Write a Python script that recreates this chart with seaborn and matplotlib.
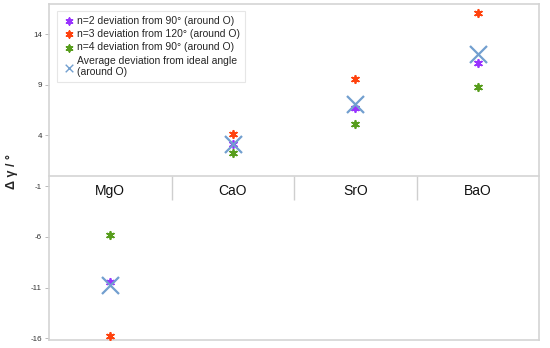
import matplotlib
matplotlib.use("Agg")
import matplotlib.pyplot as plt
import seaborn as sns
import pandas as pd

categories = ["MgO", "CaO", "SrO", "BaO"]
n2_dev = [-10.5, 3.2, 6.7, 11.1]
n3_dev = [-15.8, 4.1, 9.6, 16.1]
n4_dev = [-5.8, 2.3, 5.1, 8.8]
avg_dev = [-10.7, 3.2, 7.1, 12.0]
series_names = ["n=2 deviation from 90° (around O)",
                "n=3 deviation from 120° (around O)",
                "n=4 deviation from 90° (around O)",
                "Average deviation from ideal angle\n(around O)"]
y_ticks = [-16, -11, -6, -1, 4, 9, 14]

sns.set_theme(style="white")
plt.rcParams['font.family'] = ['Liberation Sans', 'DejaVu Sans']

colors = {series_names[0]: "#9933ff", series_names[1]: "#ff420e",
          series_names[2]: "#579d1c", series_names[3]: "#729fcf"}

rows = []
for name, vals in zip(series_names, [n2_dev, n3_dev, n4_dev, avg_dev]):
    for c, v in zip(categories, vals):
        rows.append({"cat": c, "val": v, "series": name})
df = pd.DataFrame(rows)
df["x"] = df["cat"].map({c: i for i, c in enumerate(categories)})

fig = plt.figure(figsize=(5.5, 3.48), dpi=100)
ax = fig.add_axes([49/550, 1-340/348, (539-49)/550, (340-4)/348])

star = (6, 2, 0)
for name in series_names[:3]:
    sub = df[df["series"] == name]
    sns.scatterplot(data=sub, x="x", y="val", ax=ax, marker=star, s=28,
                    color=colors[name], linewidth=1.3, label=name, zorder=3)
sub = df[df["series"] == series_names[3]]
sns.scatterplot(data=sub, x="x", y="val", ax=ax, marker="x", s=150,
                color=colors[series_names[3]], linewidth=1.6,
                label=series_names[3], zorder=4)

ax.set_xlim(-0.5, 3.5)
ax.set_ylim(-16.17, 16.96)
ax.set_xticks([])
ax.set_xlabel("")
ax.set_yticks(y_ticks)
ax.set_yticklabels([str(t) for t in y_ticks], fontsize=5.8, color="#333333")
ax.tick_params(axis="y", left=True, length=3, width=0.6, color="#b0b0b0", pad=2)
ax.set_ylabel("Δ γ / °", fontsize=9, fontweight="bold", labelpad=9)
for sp in ax.spines.values():
    sp.set_color("#d4d4d4")
    sp.set_linewidth(1.2)

sec = ax.secondary_xaxis(0, transform=ax.transData)
sec.set_xticks(range(len(categories)))
sec.set_xticklabels(categories, fontsize=10, color="#111111")
sec.set_xticks([0.5, 1.5, 2.5], minor=True)
sec.tick_params(axis="x", which="major", length=0, pad=6)
sec.tick_params(axis="x", which="minor", length=17, width=1.0, color="#cfcfcf")
sec.spines["bottom"].set_color("#d4d4d4")
sec.spines["bottom"].set_linewidth(1.2)

leg = ax.legend(loc="upper left", bbox_to_anchor=(0.012, 0.985), fontsize=7.5,
                frameon=True, fancybox=False, handletextpad=0.0,
                handlelength=1.5, borderpad=0.45, labelspacing=0.32,
                borderaxespad=0.2)
leg.get_frame().set_edgecolor("#e0e0e0")
leg.get_frame().set_linewidth(0.8)
for h in leg.legend_handles[:3]:
    h.set_sizes([22])
leg.legend_handles[3].set_sizes([30])
leg.legend_handles[3].set_linewidth(1.0)

fig.savefig("out.png", dpi=100)
